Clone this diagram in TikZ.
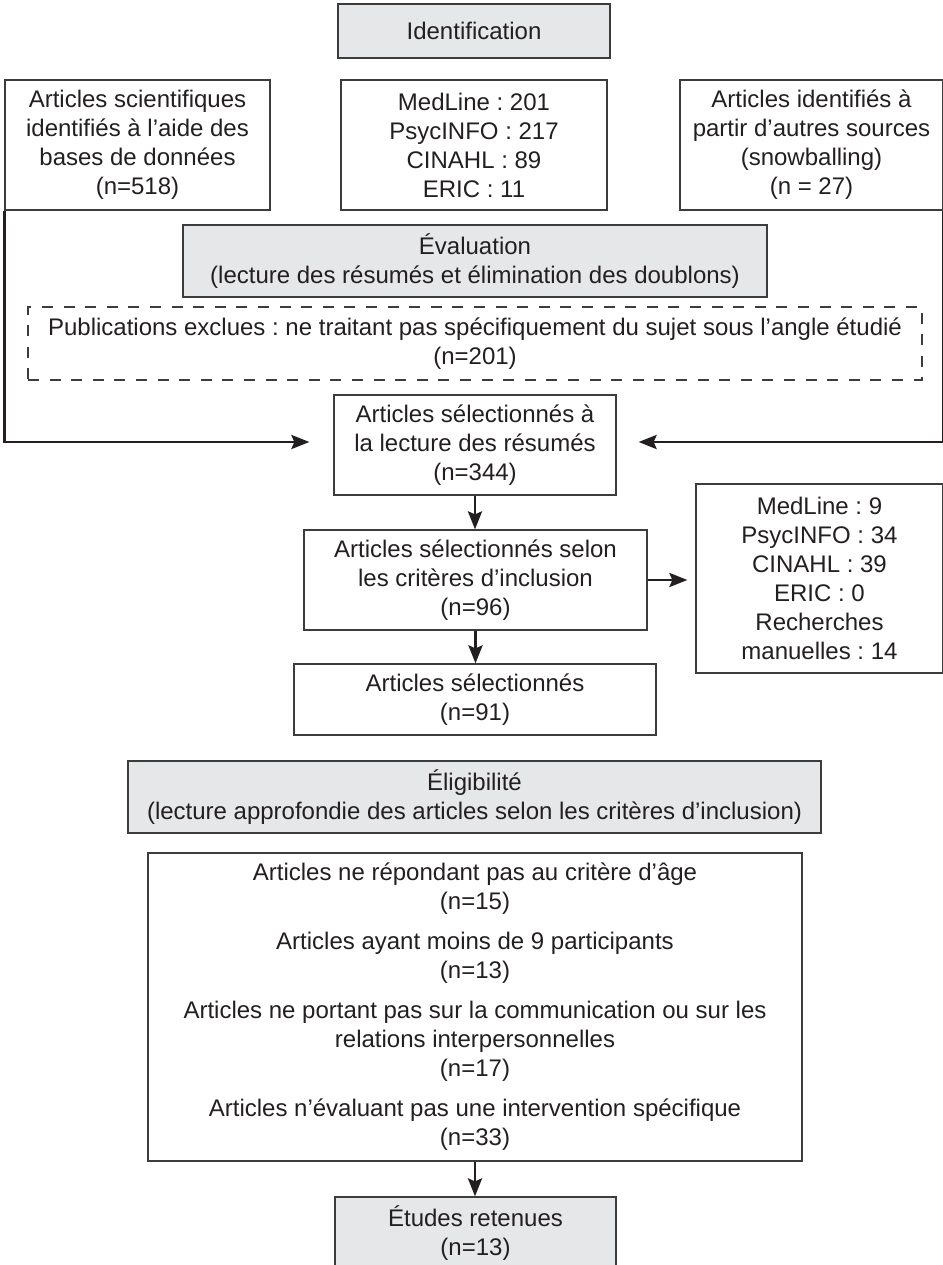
\documentclass[tikz,border=0pt]{standalone}
\usepackage{fontspec}
\setmainfont{Liberation Sans}
\usepackage{tikz}
\usetikzlibrary{arrows.meta}
\frenchspacing

\definecolor{boxgray}{RGB}{230,231,232}
\definecolor{linegray}{RGB}{60,60,60}
\definecolor{textblack}{RGB}{35,31,32}

\begin{document}
\begin{tikzpicture}[x=0.5pt,y=-0.5pt,
  font=\fontsize{12}{14.5}\selectfont,text=textblack,
  box/.style={draw=linegray,line width=0.6pt,align=center,inner sep=0pt},
  greybox/.style={box,fill=boxgray},
  dashbox/.style={box,dash pattern=on 5.5pt off 5.3pt},
  link/.style={draw=textblack,line width=1.4pt,-{Stealth[length=9pt,width=7pt,inset=1.5pt]}}]
\useasboundingbox (0,0) rectangle (943,1265);

%: identification
\node[greybox,minimum width=136pt,minimum height=27pt] (ident) at (474,31) {Identification};
\node[box,minimum width=132.5pt,minimum height=65pt] (base) at (137.5,145)
  {Articles scientifiques\\identifiés à l’aide des\\bases de données\\(n=518)};
\node[box,minimum width=133pt,minimum height=65pt] (dbone) at (474,145)
  {MedLine : 201\\PsycINFO : 217\\CINAHL : 89\\ERIC : 11};
\node[box,minimum width=131.5pt,minimum height=65pt] (other) at (811.5,145)
  {Articles identifiés à\\partir d’autres sources\\(snowballing)\\(n = 27)};

%: evaluation
\node[greybox,minimum width=292pt,minimum height=36pt] (eval) at (475,261)
  {Évaluation\\(lecture des résumés et élimination des doublons)};
\node[dashbox,minimum width=447pt,minimum height=36.5pt] (excl) at (475,343.5)
  {Publications exclues : ne traitant pas spécifiquement du sujet sous l’angle étudié\\(n=201)};
\node[box,minimum width=141pt,minimum height=50pt] (selA) at (475,445)
  {Articles sélectionnés à\\la lecture des résumés\\(n=344)};
\node[box,minimum width=171.5pt,minimum height=50pt] (selB) at (475.5,580)
  {Articles sélectionnés selon\\les critères d’inclusion\\(n=96)};
\node[box,minimum width=123.5pt,minimum height=94.5pt] (dbtwo) at (819.5,578.5)
  {MedLine : 9\\PsycINFO : 34\\CINAHL : 39\\ERIC : 0\\Recherches\\manuelles : 14};
\node[box,minimum width=181pt,minimum height=35.5pt] (selC) at (475,699.5)
  {Articles sélectionnés\\(n=91)};

%: eligibility
\node[greybox,minimum width=346.5pt,minimum height=36pt] (elig) at (474.5,797)
  {Éligibilité\\(lecture approfondie des articles selon les critères d’inclusion)};
\node[box,minimum width=327pt,minimum height=154pt] (crit) at (475,1007)
  {Articles ne répondant pas au critère d’âge\\(n=15)\\[5.5pt]
   Articles ayant moins de 9 participants\\(n=13)\\[5.5pt]
   Articles ne portant pas sur la communication ou sur les\\relations interpersonnelles\\(n=17)\\[5.5pt]
   Articles n’évaluant pas une intervention spécifique\\(n=33)};
\node[greybox,minimum width=140.5pt,minimum height=36.5pt] (final) at (475.5,1233.5)
  {Études retenues\\(n=13)};

% connectors
\draw[link,shorten >=12pt] (base.south west) |- ([yshift=1.5pt]selA.west);
\draw[link,shorten >=11pt] (other.south east) |- ([yshift=1.5pt]selA.east);
\draw[link] (selA.south) -- (selA.south |- selB.north);
\draw[link,shorten >=4pt] (selB.east) -- (dbtwo.west |- selB.east);
\draw[link] (selB.south) -- (selB.south |- selC.north);
\draw[link] (crit.south) -- (crit.south |- final.north);
\end{tikzpicture}
\end{document}
